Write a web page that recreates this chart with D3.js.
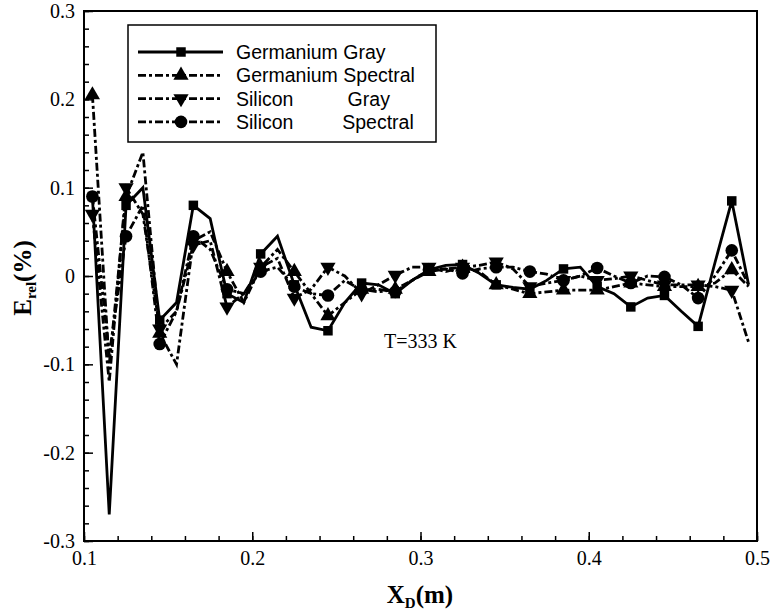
<!DOCTYPE html>
<html>
<head>
<meta charset="utf-8">
<script src="https://cdn.jsdelivr.net/npm/d3@7"></script>
<style>
  body { margin: 0; background: #fff; }
  svg text { fill: #000; }
</style>
</head>
<body>
<svg id="chart" width="773" height="610"></svg>
<script>
// x positions (m)
const xD = [0.105, 0.115, 0.125, 0.135, 0.145, 0.155, 0.165, 0.175, 0.185, 0.195,
            0.205, 0.215, 0.225, 0.235, 0.245, 0.255, 0.265, 0.275, 0.285, 0.295,
            0.305, 0.315, 0.325, 0.335, 0.345, 0.355, 0.365, 0.375, 0.385, 0.395,
            0.405, 0.415, 0.425, 0.435, 0.445, 0.455, 0.465, 0.475, 0.485, 0.495];

const geGray = [0.09, -0.27, 0.08, 0.10, -0.05, -0.03, 0.08, 0.065, -0.02, -0.03,
                0.025, 0.045, -0.01, -0.058, -0.062, -0.03, -0.008, -0.01, -0.02, -0.005,
                0.007, 0.012, 0.013, 0.003, -0.01, -0.013, -0.015, -0.005, 0.008, 0.01,
                -0.012, -0.02, -0.035, -0.025, -0.022, -0.04, -0.057, 0.015, 0.085, -0.01];

const geSpectral = [0.205, -0.10, 0.09, 0.14, -0.065, -0.10, 0.04, 0.05, 0.005, -0.03,
                    0.01, 0.03, 0.005, -0.02, -0.045, -0.03, -0.015, -0.018, -0.015, -0.005,
                    0.005, 0.008, 0.01, 0.005, -0.01, -0.015, -0.02, -0.018, -0.016, -0.016,
                    -0.016, -0.012, -0.008, -0.01, -0.012, -0.012, -0.012, -0.008, 0.007, -0.012];

const siGray = [0.07, -0.12, 0.10, 0.07, -0.06, -0.04, 0.035, 0.04, -0.035, -0.02,
                0.01, 0.02, -0.025, -0.015, 0.01, 0.0, -0.02, -0.01, 0.001, 0.01,
                0.01, 0.005, 0.01, 0.012, 0.016, 0.008, -0.012, -0.008, -0.005, 0.0,
                -0.005, -0.003, 0.0, -0.005, -0.01, -0.01, -0.01, -0.012, -0.016, -0.075];

const siSpectral = [0.09, -0.09, 0.045, 0.08, -0.077, -0.04, 0.045, 0.03, -0.015, -0.02,
                    0.005, 0.01, -0.012, -0.02, -0.022, -0.005, -0.016, -0.015, -0.018, -0.005,
                    0.007, 0.008, 0.003, 0.008, 0.01, 0.01, 0.005, 0.002, -0.005, 0.0,
                    0.009, 0.0, -0.008, 0.0, -0.001, -0.01, -0.025, 0.0, 0.029, -0.01];

const seriesNames = ["Germanium Gray", "Germanium Spectral", "Silicon          Gray", "Silicon         Spectral"];
const xTicks = [0.1, 0.2, 0.3, 0.4, 0.5];
const yTicks = [-0.3, -0.2, -0.1, 0, 0.1, 0.2, 0.3];

const svg = d3.select("#chart");
const mLeft = 84, mRight = 757, mTop = 11, mBottom = 541;

const x = d3.scaleLinear().domain([0.1, 0.5]).range([mLeft, mRight]);
const y = d3.scaleLinear().domain([-0.3, 0.3]).range([mBottom, mTop]);

const series = [
  { name: seriesNames[0], values: geGray, dash: null, symbol: d3.symbolSquare, size: 90, rot: 0 },
  { name: seriesNames[1], values: geSpectral, dash: "8,3,3,3", symbol: d3.symbolTriangle, size: 100, rot: 0 },
  { name: seriesNames[2], values: siGray, dash: "8,3,3,3", symbol: d3.symbolTriangle, size: 100, rot: 180 },
  { name: seriesNames[3], values: siSpectral, dash: "8,3,3,3", symbol: d3.symbolCircle, size: 125, rot: 0 }
];

// axes, ticks inward
const minorX = x.ticks(20), minorY = y.ticks(30);
svg.append("g")
  .attr("transform", `translate(0,${mBottom})`)
  .call(d3.axisBottom(x).tickValues(minorX).tickSize(-5).tickFormat(""));
svg.append("g")
  .attr("transform", `translate(0,${mBottom})`)
  .call(d3.axisBottom(x).tickValues(xTicks).tickSize(-9).tickPadding(10).tickFormat(d => String(d)));
svg.append("g")
  .attr("transform", `translate(${mLeft},0)`)
  .call(d3.axisLeft(y).tickValues(minorY).tickSize(-5).tickFormat(""));
svg.append("g")
  .attr("transform", `translate(${mLeft},0)`)
  .call(d3.axisLeft(y).tickValues(yTicks).tickSize(-9).tickPadding(9).tickFormat(d => String(d)));

svg.selectAll(".domain").remove();
svg.selectAll(".tick line").attr("stroke", "#000").attr("stroke-width", 1.5);
svg.selectAll(".tick text")
  .attr("font-family", "'Liberation Serif', 'Times New Roman', serif")
  .attr("font-size", 20)
  .attr("fill", "#000");

// frame
svg.append("rect")
  .attr("x", mLeft).attr("y", mTop)
  .attr("width", mRight - mLeft).attr("height", mBottom - mTop)
  .attr("fill", "none").attr("stroke", "#000").attr("stroke-width", 2);

// lines
const line = d3.line().x((d, i) => x(xD[i])).y(d => y(d));
const plot = svg.append("g");
series.forEach(s => {
  plot.append("path")
    .datum(s.values)
    .attr("d", line)
    .attr("fill", "none")
    .attr("stroke", "#000")
    .attr("stroke-width", 2.8)
    .attr("stroke-dasharray", s.dash);
  plot.selectAll(null)
    .data(s.values.filter((d, i) => i % 2 === 0))
    .join("path")
    .attr("d", d3.symbol(s.symbol, s.size))
    .attr("transform", (d, i) => `translate(${x(xD[i * 2])},${y(d)}) rotate(${s.rot})`)
    .attr("fill", "#000");
});

// legend
const lg = svg.append("g");
lg.append("rect")
  .attr("x", 128).attr("y", 25).attr("width", 308).attr("height", 117)
  .attr("fill", "#fff").attr("stroke", "#000").attr("stroke-width", 1.5);
series.forEach((s, i) => {
  const ry = 52 + i * 23.3;
  lg.append("line")
    .attr("x1", 138).attr("x2", 223).attr("y1", ry).attr("y2", ry)
    .attr("stroke", "#000").attr("stroke-width", 2.8)
    .attr("stroke-dasharray", s.dash);
  lg.append("path")
    .attr("d", d3.symbol(s.symbol, s.size))
    .attr("transform", `translate(181,${ry}) rotate(${s.rot})`)
    .attr("fill", "#000");
  lg.append("text")
    .attr("x", 236).attr("y", ry + 7)
    .attr("font-family", "'Liberation Sans', Arial, sans-serif")
    .attr("font-size", 19.5)
    .style("white-space", "pre")
    .text(s.name);
});

// annotation
svg.append("text")
  .attr("x", 384).attr("y", 348)
  .attr("font-family", "'Liberation Serif', 'Times New Roman', serif")
  .attr("font-size", 20)
  .text("T=333 K");

// axis titles
const xt = svg.append("text")
  .attr("x", 420).attr("y", 603)
  .attr("text-anchor", "middle")
  .attr("font-family", "'Liberation Serif', 'Times New Roman', serif")
  .attr("font-weight", "bold")
  .attr("font-size", 25);
xt.append("tspan").text("X");
xt.append("tspan").attr("font-size", 15).attr("dy", 5).text("D");
xt.append("tspan").attr("dy", -5).text("(m)");

const yt = svg.append("text")
  .attr("transform", "translate(31,278) rotate(-90)")
  .attr("text-anchor", "middle")
  .attr("font-family", "'Liberation Serif', 'Times New Roman', serif")
  .attr("font-weight", "bold")
  .attr("font-size", 25);
yt.append("tspan").text("E");
yt.append("tspan").attr("font-size", 15).attr("dy", 5).text("rel");
yt.append("tspan").attr("dy", -5).text("(%)");
</script>
</body>
</html>
